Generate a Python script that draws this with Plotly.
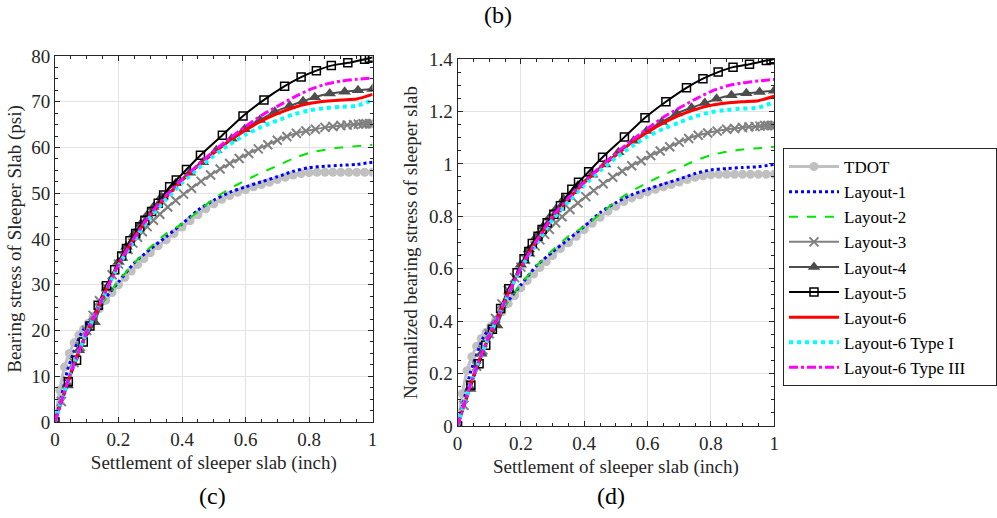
import plotly.graph_objects as go

# ---------------- data ----------------
# common settlement grid for the smooth lines (inch)
x_line = [0, 0.02, 0.04, 0.06, 0.08, 0.1, 0.125, 0.15, 0.175, 0.2, 0.25, 0.3, 0.35,
          0.4, 0.45, 0.5, 0.55, 0.6, 0.65, 0.7, 0.75, 0.8, 0.85, 0.9, 0.95, 1.0]

x_tdot = [0, 0.015, 0.03, 0.045, 0.06, 0.075, 0.09, 0.105, 0.12, 0.14, 0.16, 0.18, 0.2,
          0.22, 0.24, 0.26, 0.28, 0.3, 0.325, 0.35, 0.375, 0.4, 0.425, 0.45, 0.475, 0.5,
          0.525, 0.55, 0.575, 0.6, 0.625, 0.65, 0.675, 0.7, 0.725, 0.75, 0.775, 0.8,
          0.825, 0.85, 0.875, 0.9, 0.925, 0.95, 0.975, 1.0]
tdot_psi = [0, 7, 12, 15, 17.3, 19, 20.3, 21.6, 23, 24.8, 26.6, 28.3, 30, 31.6, 33, 34.4,
            35.7, 37, 38.5, 39.8, 41.2, 42.6, 44, 45.3, 46.6, 47.7, 48.7, 49.5, 50.2, 50.8,
            51.4, 51.9, 52.4, 53, 53.5, 54, 54.3, 54.5, 54.6, 54.6, 54.6, 54.6, 54.6, 54.6,
            54.6, 54.6]
tdot_norm = [0, 0.123, 0.211, 0.264, 0.304, 0.334, 0.357, 0.380, 0.404, 0.436, 0.467, 0.497,
             0.527, 0.555, 0.580, 0.605, 0.627, 0.650, 0.677, 0.699, 0.724, 0.749, 0.773,
             0.796, 0.819, 0.838, 0.856, 0.870, 0.882, 0.893, 0.903, 0.912, 0.921, 0.931,
             0.940, 0.949, 0.954, 0.958, 0.960, 0.960, 0.960, 0.960, 0.960, 0.960, 0.960, 0.960]

l1_psi = [0, 5.5, 11.5, 15.5, 19, 21.3, 23.8, 26.3, 28.5, 30.6, 34.8, 37.8, 40.5, 43.3, 46.3,
          48.5, 50.2, 51.4, 52.5, 53.6, 54.8, 55.6, 55.9, 56.1, 56.3, 56.8]
l1_norm = [0, 0.097, 0.202, 0.272, 0.334, 0.374, 0.418, 0.462, 0.501, 0.538, 0.612, 0.664,
           0.712, 0.761, 0.814, 0.852, 0.882, 0.903, 0.923, 0.942, 0.963, 0.977, 0.982,
           0.986, 0.989, 0.998]

l2_psi = [0, 4.5, 9, 13, 16.5, 19.8, 23, 26, 28.5, 30.8, 34.8, 38.2, 41.2, 43.3, 46.0, 48.8,
          51, 52.8, 54.5, 56, 57.6, 58.8, 59.5, 60, 60.3, 60.6]
l2_norm = [0, 0.079, 0.158, 0.228, 0.290, 0.348, 0.404, 0.457, 0.501, 0.541, 0.612, 0.671,
           0.724, 0.761, 0.808, 0.858, 0.896, 0.928, 0.958, 0.984, 1.012, 1.033, 1.046,
           1.055, 1.060, 1.065]

x_l3 = [0, 0.02, 0.04, 0.06, 0.08, 0.1, 0.12, 0.14, 0.16, 0.18, 0.2, 0.215, 0.23, 0.245,
        0.26, 0.275, 0.29, 0.31, 0.33, 0.355, 0.38, 0.405, 0.43, 0.46, 0.49, 0.52, 0.55,
        0.58, 0.61, 0.64, 0.67, 0.7, 0.73, 0.76, 0.79, 0.82, 0.85, 0.875, 0.9, 0.92, 0.94,
        0.955, 0.97, 0.98, 0.99, 1.0]
l3_psi = [0, 4.5, 9, 13, 16.5, 20, 23.3, 26.5, 29.5, 32.2, 34.5, 36.2, 37.7, 39.1, 40.4,
          41.6, 42.7, 44.1, 45.4, 47, 48.4, 49.8, 51.1, 52.6, 54, 55.3, 56.5, 57.6, 58.7,
          59.7, 60.6, 61.6, 62.4, 63.1, 63.6, 64.0, 64.4, 64.6, 64.8, 64.9, 65.0, 65.1,
          65.2, 65.2, 65.2, 65.2]
l3_norm = [0, 0.079, 0.158, 0.228, 0.290, 0.352, 0.410, 0.466, 0.518, 0.566, 0.606, 0.636,
           0.663, 0.687, 0.710, 0.731, 0.750, 0.775, 0.798, 0.826, 0.851, 0.875, 0.898,
           0.924, 0.949, 0.972, 0.993, 1.012, 1.032, 1.049, 1.065, 1.083, 1.097, 1.109,
           1.118, 1.125, 1.132, 1.135, 1.139, 1.141, 1.142, 1.144, 1.146, 1.146, 1.146, 1.146]

x_l4 = [0, 0.04, 0.075, 0.125, 0.165, 0.2, 0.225, 0.25, 0.27, 0.29, 0.31, 0.335, 0.38,
        0.425, 0.466, 0.508, 0.556, 0.597, 0.645, 0.692, 0.739, 0.781, 0.818, 0.865,
        0.912, 0.954, 1.0]
l4_psi = [0, 8, 15.7, 21.8, 29.5, 35, 38.3, 41.2, 43.3, 45.2, 47, 49.2, 52.2, 54.5, 56.8,
          59.4, 61.9, 64.0, 66.0, 67.8, 69.1, 70.1, 71.0, 71.8, 72.2, 72.5, 72.8]
l4_norm = [0, 0.141, 0.276, 0.383, 0.518, 0.615, 0.673, 0.724, 0.761, 0.794, 0.826, 0.865,
           0.917, 0.958, 0.998, 1.044, 1.088, 1.125, 1.160, 1.192, 1.214, 1.232, 1.248,
           1.262, 1.269, 1.274, 1.279]

x_l5 = [0, 0.042, 0.068, 0.089, 0.11, 0.136, 0.162, 0.188, 0.21, 0.225, 0.236, 0.254,
        0.267, 0.283, 0.304, 0.325, 0.342, 0.361, 0.382, 0.414, 0.458, 0.527, 0.592,
        0.658, 0.723, 0.775, 0.823, 0.87, 0.922, 0.975, 0.99, 1.0]
l5_psi = [0, 8.8, 13.5, 17.5, 21, 25.5, 29.8, 33.3, 36.3, 37.9, 39.6, 41.2, 42.7, 44.1, 46.0,
          47.8, 49.6, 51.4, 52.9, 55.2, 58.3, 62.7, 66.9, 70.4, 73.4, 75.4, 76.8, 77.9,
          78.5, 79.3, 79.5, 79.7]
l5_norm = [0, 0.155, 0.237, 0.308, 0.369, 0.448, 0.524, 0.585, 0.638, 0.666, 0.696, 0.724,
           0.750, 0.775, 0.808, 0.840, 0.872, 0.903, 0.930, 0.970, 1.025, 1.102, 1.176,
           1.237, 1.290, 1.325, 1.350, 1.369, 1.380, 1.394, 1.397, 1.401]

l6_psi = [0, 4.5, 8.8, 12.8, 16.3, 19.6, 23.2, 27.3, 31, 34.5, 40.3, 45.2, 49.2, 52.8, 56,
          58.8, 61.5, 63.8, 65.8, 67.4, 68.7, 69.6, 70.1, 70.4, 70.6, 71.6]
l6_norm = [0, 0.079, 0.155, 0.225, 0.286, 0.344, 0.408, 0.480, 0.545, 0.606, 0.708, 0.794,
           0.865, 0.928, 0.984, 1.033, 1.081, 1.121, 1.156, 1.185, 1.207, 1.223, 1.232,
           1.237, 1.241, 1.258]

l6t1_psi = [0, 4.5, 8.8, 12.8, 16.3, 19.6, 23.2, 27, 30.7, 34.2, 39.8, 44.8, 48.7, 52.3,
            55.4, 58.2, 60.7, 62.8, 64.5, 65.9, 67.2, 68.1, 68.6, 68.9, 69.1, 70.4]
l6t1_norm = [0, 0.079, 0.155, 0.225, 0.286, 0.344, 0.408, 0.475, 0.540, 0.601, 0.699,
             0.787, 0.856, 0.919, 0.974, 1.023, 1.067, 1.104, 1.134, 1.158, 1.181, 1.197,
             1.206, 1.211, 1.214, 1.237]

l6t3_psi = [0, 4.5, 8.8, 12.8, 16.3, 19.6, 23.2, 27, 30.8, 34.4, 40.3, 45.5, 49.5, 53,
            56.2, 59.2, 62, 64.6, 67, 69, 70.9, 72.6, 73.8, 74.5, 74.9, 75.2]
l6t3_norm = [0, 0.079, 0.155, 0.225, 0.286, 0.344, 0.408, 0.475, 0.541, 0.605, 0.708,
             0.800, 0.870, 0.931, 0.988, 1.040, 1.090, 1.135, 1.178, 1.213, 1.246, 1.276,
             1.297, 1.309, 1.316, 1.322]

x_ticks_vals = [0, 0.2, 0.4, 0.6, 0.8, 1]
x_ticks_text = ["0", "0.2", "0.4", "0.6", "0.8", "1"]
yl_ticks_vals = [0, 10, 20, 30, 40, 50, 60, 70, 80]
yr_ticks_vals = [0, 0.2, 0.4, 0.6, 0.8, 1.0, 1.2, 1.4]
yr_ticks_text = ["0", "0.2", "0.4", "0.6", "0.8", "1", "1.2", "1.4"]

# ---------------- styles ----------------
FONT = "Liberation Serif, Times New Roman, serif"
TXT = "#262626"
NB = "\u00a0" * 6  # widens the legend box so it runs off the right edge as in the reference
series = [
    ("TDOT", x_tdot, tdot_psi, tdot_norm,
     dict(color="#c0c0c0", width=3), dict(symbol="circle", size=9, color="#c0c0c0"), "lines+markers"),
    ("Layout-1", x_line, l1_psi, l1_norm,
     dict(color="#0000ff", width=3, dash="dot"), None, "lines"),
    ("Layout-2", x_line, l2_psi, l2_norm,
     dict(color="#00e600", width=2, dash="dash"), None, "lines"),
    ("Layout-3", x_l3, l3_psi, l3_norm,
     dict(color="#808080", width=2),
     dict(symbol="x-thin", size=9, color="#808080", line=dict(color="#808080", width=2)),
     "lines+markers"),
    ("Layout-4", x_l4, l4_psi, l4_norm,
     dict(color="#4d4d4d", width=2), dict(symbol="triangle-up", size=11, color="#4d4d4d"),
     "lines+markers"),
    ("Layout-5", x_l5, l5_psi, l5_norm,
     dict(color="#000000", width=2),
     dict(symbol="square-open", size=8, color="#000000", line=dict(color="#000000", width=1.5)),
     "lines+markers"),
    ("Layout-6", x_line, l6_psi, l6_norm,
     dict(color="#ff0000", width=3), None, "lines"),
    ("Layout-6 Type I", x_line, l6t1_psi, l6t1_norm,
     dict(color="#00ffff", width=4, dash="dot"), None, "lines"),
    ("Layout-6 Type III" + NB, x_line, l6t3_psi, l6t3_norm,
     dict(color="#ff00ff", width=3, dash="dashdot"), None, "lines"),
]

fig = go.Figure()
for name, xs, yl, yr, ln, mk, mode in series:
    common = dict(name=name, mode=mode, line=dict(shape="spline", smoothing=0.6, **ln))
    if mk is not None:
        common["marker"] = mk
    fig.add_trace(go.Scatter(x=xs, y=yl, xaxis="x", yaxis="y", showlegend=True, **common))
    fig.add_trace(go.Scatter(x=xs, y=yr, xaxis="x2", yaxis="y2", showlegend=False, **common))

axis_common = dict(
    showline=True, linecolor=TXT, linewidth=1, mirror="ticks",
    ticks="inside", ticklen=5, tickcolor=TXT, tickwidth=1,
    showgrid=True, gridcolor="#e3e3e3", gridwidth=1, zeroline=False,
    tickfont=dict(family=FONT, size=19, color=TXT),
    automargin=False,
)
minor_x = dict(dtick=0.05, ticks="inside", ticklen=3, tickcolor=TXT, showgrid=False)

x_title = dict(text="Settlement of sleeper slab (inch)",
               font=dict(family=FONT, size=19, color=TXT), standoff=6)

fig.update_layout(
    width=997, height=518,
    margin=dict(l=0, r=0, t=0, b=0),
    paper_bgcolor="white", plot_bgcolor="white",
    showlegend=True,
    xaxis=dict(domain=[0.0552, 0.3741], range=[0, 1], tickvals=x_ticks_vals,
               ticktext=x_ticks_text, anchor="y", title=x_title, minor=minor_x,
               **axis_common),
    yaxis=dict(domain=[0.1853, 0.8919], range=[0, 80], tickvals=yl_ticks_vals, anchor="x",
               title=dict(text="Bearing stress of Sleeper Slab (psi)",
                          font=dict(family=FONT, size=19, color=TXT), standoff=4),
               minor=dict(dtick=2.5, ticks="inside", ticklen=3, tickcolor=TXT,
                          showgrid=False),
               **axis_common),
    xaxis2=dict(domain=[0.4594, 0.7773], range=[0, 1], tickvals=x_ticks_vals,
                ticktext=x_ticks_text, anchor="y2", title=x_title, minor=minor_x,
                **axis_common),
    yaxis2=dict(domain=[0.1776, 0.8861], range=[0, 1.4], tickvals=yr_ticks_vals,
                ticktext=yr_ticks_text, anchor="x2",
                title=dict(text="Normalized bearing stress of sleeper slab",
                           font=dict(family=FONT, size=19, color=TXT), standoff=6),
                minor=dict(dtick=0.05, ticks="inside", ticklen=3, tickcolor=TXT,
                           showgrid=False),
                **axis_common),
    legend=dict(x=0.7864, y=0.7143, xanchor="left", yanchor="top",
                bordercolor=TXT, borderwidth=1, bgcolor="white",
                font=dict(family=FONT, size=17, color="#000000"),
                itemwidth=50, tracegroupgap=0),
    annotations=[
        dict(text="(b)", x=0.5, y=1 - 15 / 518, xref="paper", yref="paper",
             xanchor="center", yanchor="middle",
             showarrow=False, font=dict(family=FONT, size=24, color="#000000")),
        dict(text="(c)", x=213 / 997, y=1 - 496 / 518, xref="paper", yref="paper",
             xanchor="center", yanchor="middle",
             showarrow=False, font=dict(family=FONT, size=24, color="#000000")),
        dict(text="(d)", x=612 / 997, y=1 - 496 / 518, xref="paper", yref="paper",
             xanchor="center", yanchor="middle",
             showarrow=False, font=dict(family=FONT, size=24, color="#000000")),
    ],
)

fig.write_html("out.html", config={"displayModeBar": False},
               post_script="document.body.style.margin='0';")
